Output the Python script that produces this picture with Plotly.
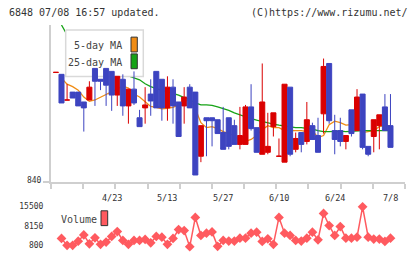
import plotly.graph_objects as go

# ---------------- data ----------------
day_index = list(range(-1, 60))
open_ = [951, 949, 923, 931, 931, 921, 923, 955, 944, 955, 952, 928, 944, 917, 934, 905, 915, 929, 952, 944,
         915, 936, 921, 917, 936, 931, 866, 905, 905, 903, 890, 905, 897, 878, 878, 916, 895, 868, 870, 896,
         866, 860, 936, 873, 890, 881, 897, 887, 909, 960, 892, 892, 881, 913, 892, 929, 876, 886, 897, 916, 897]
high = [951, 949, 939, 931, 931, 921, 942, 955, 944, 955, 952, 947, 949, 934, 952, 913, 936, 944, 952, 944,
        947, 944, 921, 936, 939, 931, 897, 905, 905, 903, 916, 905, 903, 916, 918, 939, 895, 960, 910, 910,
        884, 939, 936, 890, 890, 921, 900, 905, 965, 960, 908, 905, 887, 913, 934, 929, 876, 903, 908, 929, 929]
low = [951, 920, 923, 925, 917, 891, 923, 917, 933, 917, 912, 917, 907, 899, 918, 896, 899, 907, 915, 902,
       902, 899, 886, 899, 915, 847, 860, 866, 876, 889, 873, 873, 878, 873, 878, 892, 870, 868, 868, 886,
       866, 860, 866, 870, 870, 878, 883, 870, 889, 899, 868, 876, 873, 886, 892, 873, 866, 870, 873, 892, 875]
close = [951, 920, 923, 925, 917, 915, 936, 942, 942, 938, 928, 947, 917, 934, 920, 896, 918, 922, 915, 915,
         936, 917, 886, 926, 915, 847, 897, 902, 902, 889, 873, 876, 878, 887, 916, 894, 870, 921, 876, 910,
         866, 939, 868, 884, 878, 903, 883, 870, 957, 902, 883, 881, 887, 889, 926, 875, 868, 903, 908, 892, 875]

ma_index = list(range(0, 60))
ma5 = [945, 939, 936.5, 933, 926, 921.7, 923, 925.7, 928.5, 931, 934, 937, 935, 929, 926, 921, 916.5, 915.5, 914, 914.5,
       915.5, 918, 921, 924, 914, 900, 895, 896, 894, 891, 889, 887, 881, 881, 883, 887, 893, 897, 895, 895,
       892, 892, 892, 892, 891, 892, 885, 887, 898, 901.5, 900, 897.5, 898, 896, 890, 891, 892, 896, 897, 897]
ma25 = [999, 989, 982, 976, 971, 967, 963, 960, 957, 954, 952, 949.5, 947.5, 945.5, 943.5, 939.5, 936.5, 934.5, 933, 931,
        929.5, 928, 925.5, 923.5, 920, 918, 918, 917.5, 916, 914.5, 912.5, 910, 908, 905.5, 904, 902.5, 901, 899.5, 898.5, 897.5,
        896.5, 896, 895, 895, 894.5, 893.5, 892, 891, 891, 891.5, 891.5, 891, 891.5, 892, 892, 892, 892, 892, 892, 892]

volume_index = list(range(0, 60))
volume = [3400, 800, 800, 2400, 4750, 1400, 3650, 1170, 2030, 4170, 6040, 2670, 1170, 2670, 2670, 3040, 1770, 4170, 3900, 1170,
          3420, 6780, 6410, 300, 11380, 4540, 5400, 5890, 430, 2670, 2410, 2410, 3530, 3530, 5400, 5770, 2300, 3270, 1170, 11380,
          5400, 4540, 2670, 2410, 3530, 5770, 2890, 12880, 8280, 4540, 7910, 3530, 3530, 3900, 15390, 3900, 3160, 3160, 2300, 3530]

date_tick_index = [9, 19, 29, 39, 49, 59]
date_tick_text = ["4/23", "5/13", "5/27", "6/10", "6/24", "7/8"]
price_ticks = [840]
volume_ticks = [800, 8150, 15500]

# ---------------- styles ----------------
RED = "#da0000"
BLUE = "#3d44c0"
ORANGE = "#f08c14"
GREEN = "#16a316"
VOLC = "#ff5a5f"
AXC = "#cfcfcf"
TXT = "#333333"
MONO = "DejaVu Sans Mono"

W, H = 420, 259
ML, MR, MT, MB = 51, 15, 25, 7
PW = W - ML - MR
PH = H - MT - MB

def px_x(x):
    return (x - ML) / PW

def px_y(y):
    return (H - MB - y) / PH

x_range = [(51 - 61.5) / 5.576, (405 - 61.5) / 5.576]
price_range = [840, 999]
vol_range = [-584, 16996]

up = [i for i in range(len(day_index)) if close[i] >= open_[i]]
dn = [i for i in range(len(day_index)) if close[i] < open_[i]]

def pick(arr, idx):
    return [arr[i] for i in idx]

fig = go.Figure()

# moving averages (main subplot, below legend box)
fig.add_trace(go.Scatter(x=ma_index, y=ma5, mode="lines", line=dict(color=ORANGE, width=1.3),
                         xaxis="x", yaxis="y", hoverinfo="skip", showlegend=False))
fig.add_trace(go.Scatter(x=ma_index, y=ma25, mode="lines", line=dict(color=GREEN, width=1.3),
                         xaxis="x", yaxis="y", hoverinfo="skip", showlegend=False))

# legend box (overlay in fractional units)
bx0, bx1 = px_x(65.7), px_x(143.3)
by0, by1 = (184 - 30) / 159, (184 - 77.3) / 159
fig.add_trace(go.Scatter(x=[bx0, bx1, bx1, bx0, bx0], y=[by0, by0, by1, by1, by0], mode="lines",
                         fill="toself", fillcolor="white", line=dict(color="#d9d9d9", width=1.5),
                         xaxis="x2", yaxis="y2", hoverinfo="skip", showlegend=False))

# candles (overlay above legend box)
for idx, col in ((up, RED), (dn, BLUE)):
    fig.add_trace(go.Candlestick(
        x=pick(day_index, idx), open=pick(open_, idx), high=pick(high, idx),
        low=pick(low, idx), close=pick(close, idx),
        increasing=dict(line=dict(color=col, width=1), fillcolor=col),
        decreasing=dict(line=dict(color=col, width=1), fillcolor=col),
        whiskerwidth=0, xaxis="x3", yaxis="y3", showlegend=False, hoverinfo="skip"))

# volume
fig.add_trace(go.Scatter(x=volume_index, y=volume, mode="lines+markers",
                         line=dict(color=VOLC, width=1.5),
                         marker=dict(symbol="diamond", size=7.5, color=VOLC),
                         xaxis="x4", yaxis="y4", cliponaxis=False, hoverinfo="skip", showlegend=False))

price_dom = [px_y(184), 1]
vol_dom = [0, px_y(205)]
dt = (x_range[1] - x_range[0]) / 11

fig.update_layout(
    width=W, height=H, margin=dict(l=ML, r=MR, t=MT, b=MB),
    paper_bgcolor="white", plot_bgcolor="white",
    boxgap=0.1, boxgroupgap=0, showlegend=False,
    xaxis=dict(domain=[0, 1], range=x_range, anchor="y", tickmode="linear", tick0=x_range[0], dtick=dt,
               ticks="outside", ticklen=5, tickwidth=2, tickcolor=AXC, showticklabels=False,
               showline=True, linecolor=AXC, linewidth=2, showgrid=False, zeroline=False,
               rangeslider=dict(visible=False)),
    yaxis=dict(domain=price_dom, range=price_range, anchor="x", tickvals=price_ticks,
               ticks="outside", ticklen=6, tickwidth=2, tickcolor=AXC, ticklabelshift=-2,
               showline=True, linecolor=AXC, linewidth=2, showgrid=False, zeroline=False,
               tickfont=dict(family=MONO, size=8, color=TXT)),
    xaxis2=dict(overlaying="x", range=[0, 1], visible=False, anchor="y2"),
    yaxis2=dict(overlaying="y", range=[0, 1], visible=False, anchor="x2"),
    xaxis3=dict(overlaying="x", range=x_range, visible=False, anchor="y3", rangeslider=dict(visible=False)),
    yaxis3=dict(overlaying="y", range=price_range, visible=False, anchor="x3"),
    xaxis4=dict(domain=[0, 1], range=x_range, visible=False, anchor="y4"),
    yaxis4=dict(domain=vol_dom, range=vol_range, anchor="x4", tickvals=volume_ticks,
                ticktext=[str(v) for v in volume_ticks], ticks="outside", ticklen=5,
                tickcolor="rgba(0,0,0,0)", showline=False, showgrid=False,
                zeroline=False, tickfont=dict(family=MONO, size=8, color=TXT)),
)

ann = []
ann.append(dict(text="6848 07/08 16:57 updated.", xref="paper", yref="paper", x=px_x(7), y=px_y(12.5),
                xanchor="left", yanchor="middle", showarrow=False, font=dict(family=MONO, size=10, color=TXT)))
ann.append(dict(text="(C)https://www.rizumu.net/", xref="paper", yref="paper", x=px_x(410), y=px_y(12.5),
                xanchor="right", yanchor="middle", showarrow=False, font=dict(family=MONO, size=10, color=TXT)))
for xi, t in zip(date_tick_index, date_tick_text):
    ann.append(dict(text=t, xref="x", yref="paper", x=xi, y=px_y(200.5), xanchor="center", yanchor="middle",
                    showarrow=False, font=dict(family=MONO, size=8.5, color=TXT)))
ann.append(dict(text="5-day MA", xref="paper", yref="paper", x=px_x(124), y=px_y(46), xanchor="right",
                yanchor="middle", showarrow=False, font=dict(family=MONO, size=10, color="#444")))
ann.append(dict(text="25-day MA", xref="paper", yref="paper", x=px_x(124), y=px_y(63.3), xanchor="right",
                yanchor="middle", showarrow=False, font=dict(family=MONO, size=10, color="#444")))
ann.append(dict(text="Volume", xref="paper", yref="paper", x=px_x(59), y=px_y(221.7), xanchor="left",
                yanchor="middle", showarrow=False, font=dict(family=MONO, size=10, color="#444")))
fig.update_layout(annotations=ann)

shapes = [
    dict(type="rect", xref="paper", yref="paper", x0=px_x(131), x1=px_x(137.3), y0=px_y(52.3), y1=px_y(37.3),
         fillcolor=ORANGE, line=dict(color="#333", width=1), layer="above"),
    dict(type="rect", xref="paper", yref="paper", x0=px_x(131), x1=px_x(137.3), y0=px_y(69.3), y1=px_y(54.3),
         fillcolor=GREEN, line=dict(color="#333", width=1), layer="above"),
    dict(type="rect", xref="paper", yref="paper", x0=px_x(101), x1=px_x(107.7), y0=px_y(228.3), y1=px_y(213.3),
         fillcolor=VOLC, line=dict(color="#333", width=1), layer="above"),
]
fig.update_layout(shapes=shapes)

fig.write_html("out.html")
